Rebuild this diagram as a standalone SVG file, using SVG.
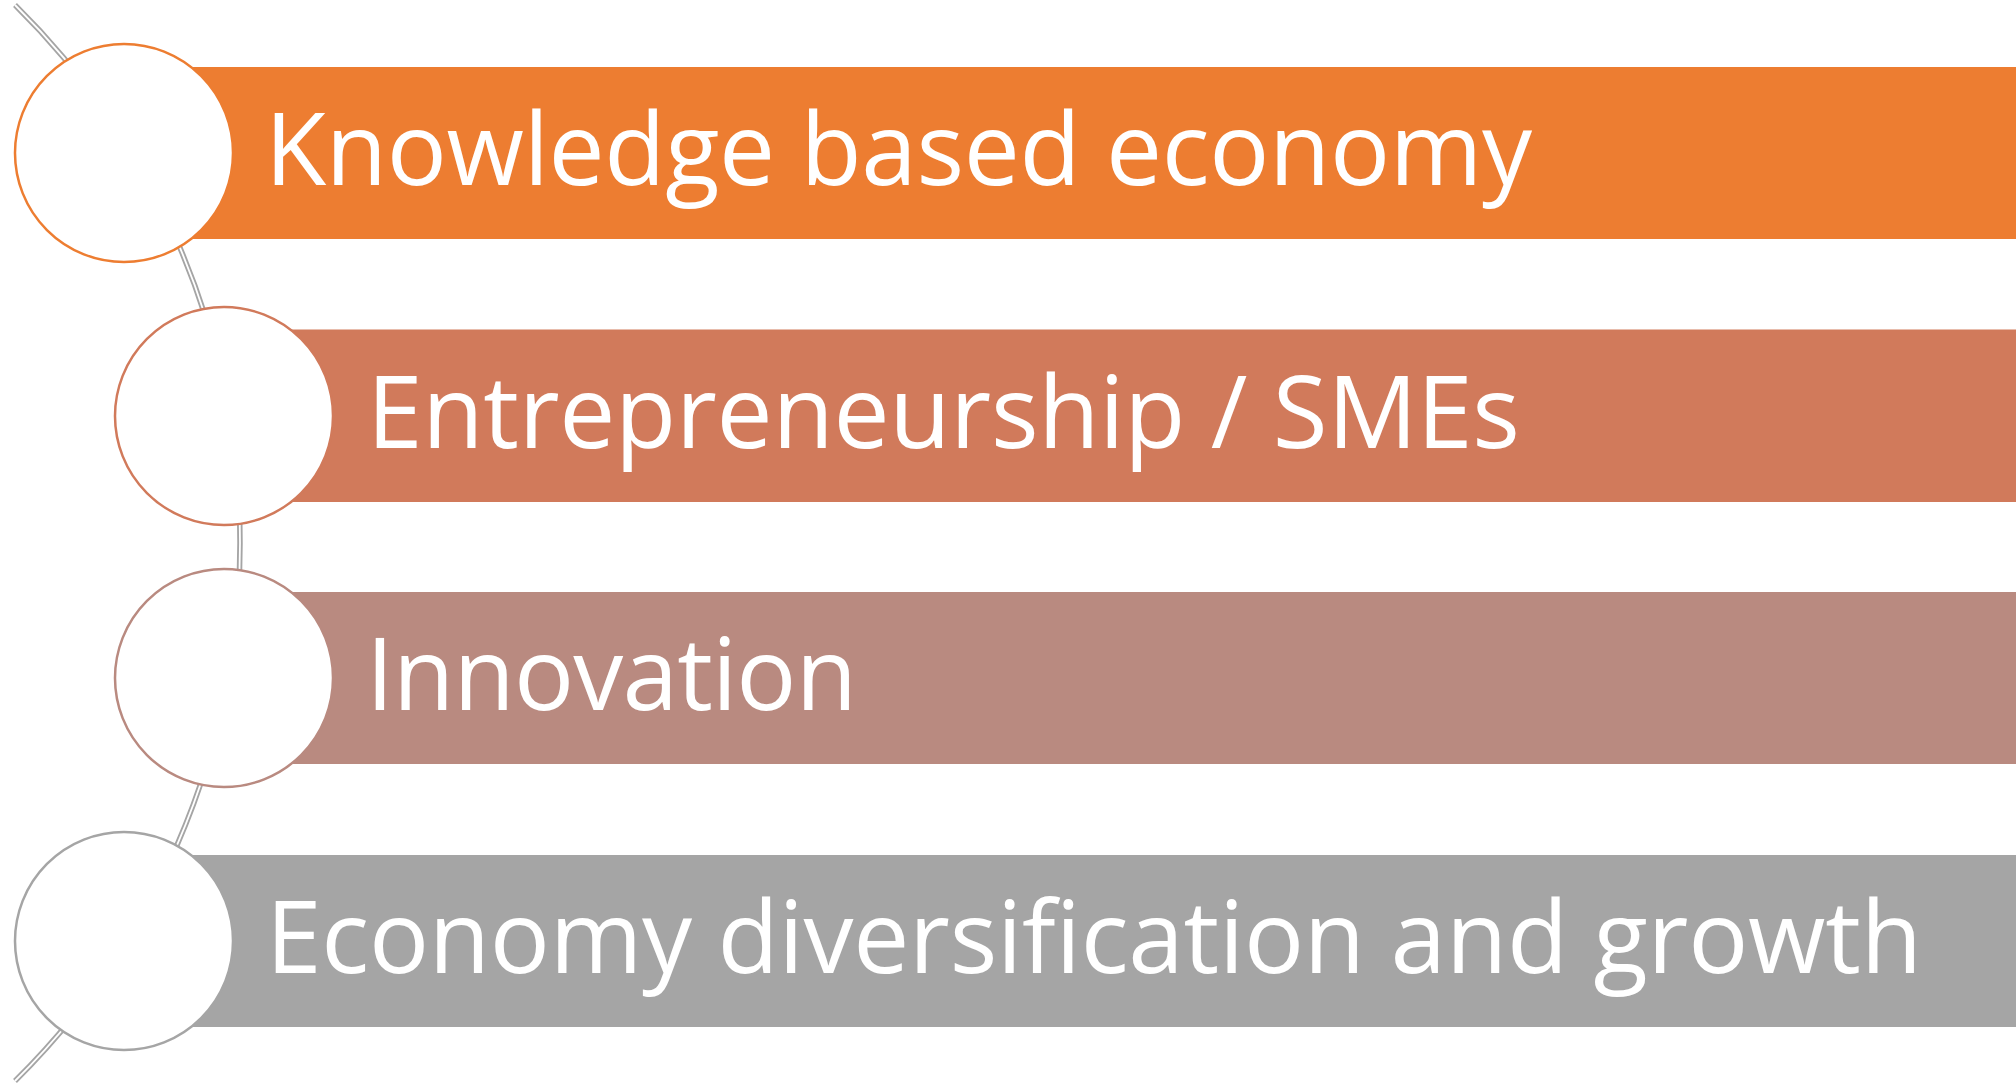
<svg xmlns="http://www.w3.org/2000/svg" width="2016" height="1085" viewBox="0 0 2016 1085">
<style>
.lbl{font-family:"Open Sans","Liberation Sans",sans-serif;font-size:100px;fill:#ffffff}
.ring{fill:#ffffff;stroke-width:2.5}
</style>
<rect width="2016" height="1085" fill="#ffffff"/>
<g id="connectors">
<path d="M15,5 A755.7,755.7 0 0 1 15,1081" fill="none" stroke="#A5A5A5" stroke-width="5.5"/>
<path d="M15,5 A755.7,755.7 0 0 1 15,1081" fill="none" stroke="#ffffff" stroke-width="1.8"/>
</g>
<g id="node1">
<rect x="124" y="67" width="1892" height="172" fill="#ED7D31"/>
<circle class="ring" cx="124" cy="153" r="109" stroke="#ED7D31"/>
<text class="lbl" x="265" y="185" textLength="1267" lengthAdjust="spacing">Knowledge based economy</text>
</g>
<g id="node2">
<rect x="224" y="329.5" width="1792" height="172.5" fill="#D17A5B"/>
<circle class="ring" cx="224" cy="416" r="109" stroke="#D17A5B"/>
<text class="lbl" x="367" y="448" textLength="1153" lengthAdjust="spacing">Entrepreneurship / SMEs</text>
</g>
<g id="node3">
<rect x="224" y="592" width="1792" height="172" fill="#B98A80"/>
<circle class="ring" cx="224" cy="678" r="109" stroke="#B98A80"/>
<text class="lbl" x="366" y="710" textLength="491" lengthAdjust="spacing">Innovation</text>
</g>
<g id="node4">
<rect x="124" y="855" width="1892" height="172" fill="#A5A5A5"/>
<circle class="ring" cx="124" cy="941" r="109" stroke="#A5A5A5"/>
<text class="lbl" x="266" y="973" textLength="1656" lengthAdjust="spacing">Economy diversification and growth</text>
</g>
</svg>
